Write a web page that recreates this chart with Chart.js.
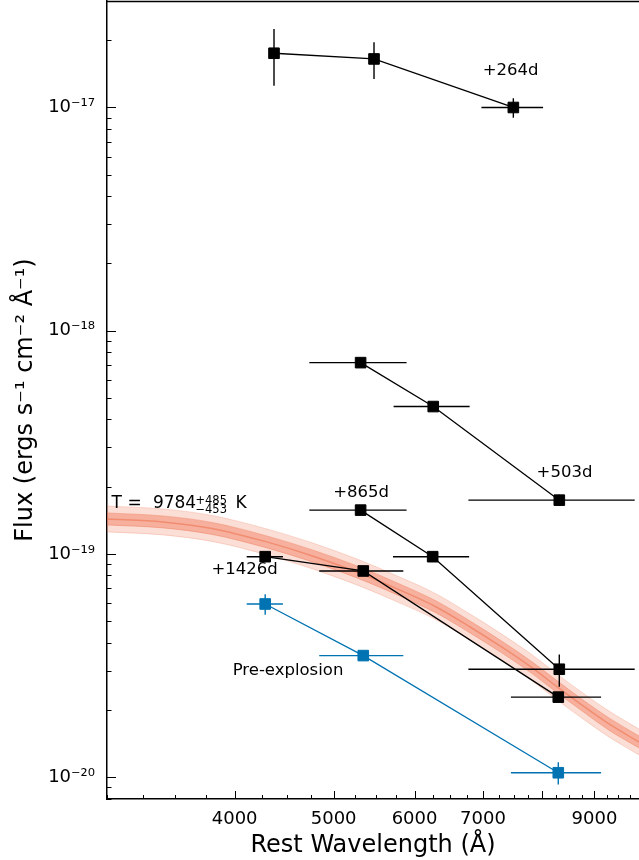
<!DOCTYPE html>
<html><head><meta charset="utf-8">
<script src="https://cdn.jsdelivr.net/npm/chart.js@4.4.1/dist/chart.umd.min.js"></script>
<style>html,body{margin:0;padding:0;background:#fff;overflow:hidden}canvas{display:block}</style>
</head><body>
<canvas id="c" width="639" height="860"></canvas>
<script>
// ---------- data ----------
const waves264 = [4371, 5476, 7496];
const flux264  = [1.75e-17, 1.65e-17, 1.00e-17];
const xerr264  = [0, 0, 520];
const yerr264  = [0.50e-17, 0.31e-17, 0.10e-17];

const waves503 = [5313, 6258, 8314];
const flux503  = [7.19e-19, 4.57e-19, 1.74e-19];
const xerr503  = [580, 535, 1540];
const yerr503  = [0, 0, 1.0e-20];

const waves865 = [5313, 6250, 8314];
const flux865  = [1.57e-19, 9.71e-20, 3.04e-20];
const xerr865  = [580, 535, 1540];
const yerr865  = [0, 5e-21, 5e-21];

const waves1426 = [4285, 5345, 8295];
const flux1426  = [9.71e-20, 8.38e-20, 2.28e-20];
const xerr1426  = [175, 505, 840];
const yerr1426  = [0, 0, 0];

const wavesPre = [4285, 5345, 8295];
const fluxPre  = [5.96e-20, 3.50e-20, 1.045e-20];
const xerrPre  = [175, 505, 840];
const yerrPre  = [6.3e-21, 0, 1.2e-21];

// blackbody band
const bbWave      = [3000, 3400, 3800, 4300, 4800, 5300, 5800, 6300, 6800, 7300, 7800, 8300, 8800, 9300, 9950];
const bbCenter    = [1.433e-19, 1.390e-19, 1.300e-19, 1.131e-19, 9.685e-20, 8.21e-20, 6.89e-20, 5.78e-20, 4.70e-20, 3.826e-20, 3.112e-20, 2.506e-20, 2.060e-20, 1.728e-20, 1.435e-20];
const bbUpper     = [1.638e-19, 1.589e-19, 1.486e-19, 1.293e-19, 1.107e-19, 9.38e-20, 7.88e-20, 6.61e-20, 5.37e-20, 4.37e-20, 3.56e-20, 2.86e-20, 2.35e-20, 1.975e-20, 1.64e-20];
const bbLower     = [1.254e-19, 1.216e-19, 1.137e-19, 9.90e-20, 8.47e-20, 7.18e-20, 6.03e-20, 5.06e-20, 4.11e-20, 3.35e-20, 2.72e-20, 2.19e-20, 1.80e-20, 1.51e-20, 1.256e-20];
const bbCoreUpper = [1.525e-19, 1.479e-19, 1.383e-19, 1.203e-19, 1.030e-19, 8.74e-20, 7.33e-20, 6.15e-20, 5.00e-20, 4.07e-20, 3.31e-20, 2.67e-20, 2.19e-20, 1.84e-20, 1.527e-20];
const bbCoreLower = [1.347e-19, 1.307e-19, 1.222e-19, 1.063e-19, 9.10e-20, 7.72e-20, 6.48e-20, 5.43e-20, 4.42e-20, 3.60e-20, 2.93e-20, 2.36e-20, 1.94e-20, 1.62e-20, 1.349e-20];

// axes
const xMajorTicks = [4000, 5000, 6000, 7000, 8000, 9000];
const xTickLabels = ['4000', '5000', '6000', '7000', '', '9000'];
const yMajorTicks = [1e-20, 1e-19, 1e-18, 1e-17];
const yTickLabels = ['10\u207B\u00B2\u2070', '10\u207B\u00B9\u2079', '10\u207B\u00B9\u2078', '10\u207B\u00B9\u2077'];
const X_MIN = 3000, X_MAX = 9950, Y_MIN = 7.97e-21, Y_MAX = 3.0e-17;

// labels
const phaseLabels = ['+264d', '+503d', '+865d', '+1426d', 'Pre-explosion'];
const phaseLabelWave = [7451, 8412, 5320, 4091, 4511];
const phaseLabelFlux = [1.464e-17, 2.311e-19, 1.888e-19, 8.47e-20, 2.986e-20];
const tempText = {main: 'T = 9784', sup: '+485', sub: '\u2212453', unit: 'K', wave: 3030, flux: 1.606e-19};

// ---------- build ----------
const BLACK = '#000000', BLUE = '#0173b2';
function pts(w, f) { return w.map((v, i) => ({x: v, y: f[i]})); }
function errPts(w, f, xe, ye) {
  const out = [];
  w.forEach((v, i) => {
    if (xe[i] > 0) { out.push({x: v - xe[i], y: f[i]}, {x: v + xe[i], y: f[i]}, {x: v, y: null}); }
    if (ye[i] > 0) { out.push({x: v, y: f[i] - ye[i]}, {x: v, y: f[i] + ye[i]}, {x: v, y: null}); }
  });
  return out;
}
function seriesDs(w, f, color) {
  return {data: pts(w, f), showLine: true, borderColor: color, backgroundColor: color,
    borderWidth: 1.3, pointStyle: 'rect', pointRadius: 7.5, pointBorderWidth: 1,
    pointBorderColor: color, pointBackgroundColor: color, order: 0};
}
function errDs(w, f, xe, ye, color) {
  return {data: errPts(w, f, xe, ye), showLine: true, spanGaps: false, borderColor: color,
    borderWidth: 1.4, pointRadius: 0, order: 5};
}
function bandDs(arr, opts) {
  return Object.assign({data: pts(bbWave, arr), showLine: true, pointRadius: 0,
    cubicInterpolationMode: 'monotone', order: 10, fill: false}, opts);
}

const datasets = [
  bandDs(bbUpper, {borderColor: 'rgba(240,140,110,0.3)', borderWidth: 1, fill: '+1', backgroundColor: 'rgba(240,125,90,0.25)'}),
  bandDs(bbLower, {borderColor: 'rgba(240,140,110,0.3)', borderWidth: 1}),
  bandDs(bbCoreUpper, {borderColor: 'rgba(238,120,85,0.4)', borderWidth: 1, fill: '+1', backgroundColor: 'rgba(238,110,75,0.42)'}),
  bandDs(bbCoreLower, {borderColor: 'rgba(238,120,85,0.4)', borderWidth: 1}),
  bandDs(bbCenter, {borderColor: 'rgba(236,105,70,0.55)', borderWidth: 1.5}),
  errDs(waves264, flux264, xerr264, yerr264, BLACK),
  errDs(waves503, flux503, xerr503, yerr503, BLACK),
  errDs(waves865, flux865, xerr865, yerr865, BLACK),
  errDs(waves1426, flux1426, xerr1426, yerr1426, BLACK),
  errDs(wavesPre, fluxPre, xerrPre, yerrPre, BLUE),
  seriesDs(waves264, flux264, BLACK),
  seriesDs(waves503, flux503, BLACK),
  seriesDs(waves865, flux865, BLACK),
  seriesDs(waves1426, flux1426, BLACK),
  seriesDs(wavesPre, fluxPre, BLUE)
];

const FONT = 'DejaVu Sans';

const decor = {
  id: 'decor',
  afterDraw(chart) {
    const {ctx, chartArea: a, scales: {x, y}} = chart;
    ctx.save();
    ctx.strokeStyle = '#000';
    // top spine
    ctx.lineWidth = 1.5;
    ctx.beginPath(); ctx.moveTo(a.left, a.top + 0.5); ctx.lineTo(a.right, a.top + 0.5); ctx.stroke();
    ctx.lineWidth = 1;
    const xt = (v, len) => { const p = Math.round(x.getPixelForValue(v)) + 0.5; ctx.beginPath(); ctx.moveTo(p, a.bottom); ctx.lineTo(p, a.bottom - len); ctx.stroke(); };
    const yt = (v, len) => { const p = Math.round(y.getPixelForValue(v)) + 0.5; ctx.beginPath(); ctx.moveTo(a.left, p); ctx.lineTo(a.left + len, p); ctx.stroke(); };
    for (let v = X_MIN; v <= X_MAX; v += 250) { if (!xMajorTicks.includes(v)) xt(v, 4); }
    xMajorTicks.forEach(v => xt(v, 8));
    for (let e = -21; e <= -17; e++) {
      for (let k = 2; k <= 9; k++) { const v = k * Math.pow(10, e); if (v > Y_MIN && v < Y_MAX) yt(v, 4.5); }
    }
    yMajorTicks.forEach(v => yt(v, 9));
    // text labels
    ctx.fillStyle = '#000';
    ctx.textAlign = 'center'; ctx.textBaseline = 'middle';
    ctx.font = '16.5px "' + FONT + '"';
    phaseLabels.forEach((t, i) => {
      ctx.fillText(t, x.getPixelForValue(phaseLabelWave[i]), y.getPixelForValue(phaseLabelFlux[i]));
    });
    // temperature label
    const tx = x.getPixelForValue(tempText.wave), ty = y.getPixelForValue(tempText.flux);
    ctx.textAlign = 'left'; ctx.textBaseline = 'alphabetic';
    ctx.font = '17px "' + FONT + '"';
    ctx.fillText('T', tx, ty);
    ctx.fillText('=', tx + 16, ty);
    ctx.fillText(tempText.main.split('= ')[1], tx + 41.5, ty);
    ctx.font = '11.5px "' + FONT + '"';
    ctx.fillText(tempText.sup, tx + 84, ty - 3.5);
    ctx.fillText(tempText.sub, tx + 84, ty + 5.5);
    ctx.font = '17px "' + FONT + '"';
    ctx.fillText(tempText.unit, tx + 124, ty);
    ctx.restore();
  }
};

function zeroPad(s) { s.paddingTop = 0; s.paddingBottom = 0; s.paddingLeft = 0; s.paddingRight = 0; }

new Chart(document.getElementById('c'), {
  type: 'scatter',
  data: {datasets},
  options: {
    responsive: false, animation: false, devicePixelRatio: 1,
    layout: {autoPadding: false, padding: {top: 1, right: 0, bottom: 0, left: 0}},
    plugins: {legend: {display: false}, tooltip: {enabled: false}},
    font: {family: FONT},
    scales: {
      x: {
        type: 'logarithmic', position: 'bottom', min: X_MIN, max: X_MAX,
        afterFit: s => { s.height = 61; zeroPad(s); },
        afterBuildTicks: s => { s.ticks = xMajorTicks.map(v => ({value: v})); },
        grid: {display: false, drawTicks: false},
        border: {display: true, color: '#000', width: 1.5},
        ticks: {autoSkip: false, maxRotation: 0, padding: 10, color: '#000',
          font: {family: FONT, size: 18},
          callback: (v, i) => xTickLabels[i]},
        title: {display: true, text: 'Rest Wavelength (\u00C5)', color: '#000',
          font: {family: FONT, size: 24}, padding: {top: 0, bottom: 0}}
      },
      y: {
        type: 'logarithmic', position: 'left', min: Y_MIN, max: Y_MAX,
        afterFit: s => { s.width = 107; zeroPad(s); },
        afterBuildTicks: s => { s.ticks = yMajorTicks.map(v => ({value: v})); },
        grid: {display: false, drawTicks: false},
        border: {display: true, color: '#000', width: 1.5},
        ticks: {autoSkip: false, padding: 12, color: '#000',
          font: {family: FONT, size: 18},
          callback: (v, i) => yTickLabels[i]},
        title: {display: true, text: 'Flux (ergs s\u207B\u00B9 cm\u207B\u00B2 \u00C5\u207B\u00B9)', color: '#000',
          font: {family: FONT, size: 24}, padding: {top: 11.5, bottom: 0}}
      }
    }
  },
  plugins: [decor]
});
</script>
</body></html>
